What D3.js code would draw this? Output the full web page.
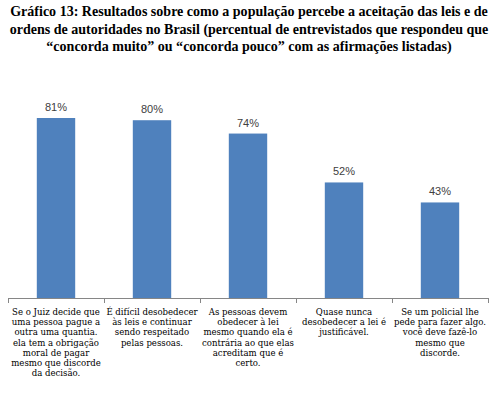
<!DOCTYPE html>
<html>
<head>
<meta charset="utf-8">
<script src="https://cdn.jsdelivr.net/npm/d3@7"></script>
<style>
  body { margin: 0; background: #fff; }
  svg { display: block; }
</style>
</head>
<body>
<div id="chart"></div>
<script>
// chart data
var titleLines = [
    "Gráfico 13: Resultados sobre como a população percebe a aceitação das leis e de",
    "ordens de autoridades no Brasil (percentual de entrevistados que respondeu que",
    "“concorda muito” ou “concorda pouco” com as afirmações listadas)"
];
var categories = [
    ["Se o Juiz decide que", "uma pessoa pague a", "outra uma quantia.", "ela tem a obrigação", "moral de pagar", "mesmo que discorde", "da decisão."],
    ["É difícil desobedecer", "às leis e continuar", "sendo respeitado", "pelas pessoas."],
    ["As pessoas devem", "obedecer à lei", "mesmo quando ela é", "contrária ao que elas", "acreditam que é", "certo."],
    ["Quase nunca", "desobedecer a lei é", "justificável."],
    ["Se um policial lhe", "pede para fazer algo.", "você deve fazê-lo", "mesmo que", "discorde."]
];
var values = [81, 80, 74, 52, 43];

var w = 500, h = 399;
var margin = { left: 8, right: 12, top: 98, bottom: 101 };
var serif = "'Liberation Serif', 'Times New Roman', serif";

var svg = d3.select("#chart").append("svg").attr("width", w).attr("height", h);

// title, sized so the first line spans about 478px like the reference
var title = svg.append("g").selectAll("text")
    .data(titleLines)
    .enter().append("text")
    .attr("x", w / 2 - 1)
    .attr("y", function (d, i) { return 16 + i * 17.5 })
    .attr("text-anchor", "middle")
    .attr("font-family", serif)
    .attr("font-weight", "bold")
    .attr("font-size", 13)
    .attr("fill", "#000")
    .text(function (d) { return d });
var tLen = title.nodes()[0].getComputedTextLength();
title.attr("font-size", Math.min(15, 13 * 478 / tLen));

var x = d3.scaleBand()
    .domain(d3.range(values.length))
    .range([margin.left, w - margin.right])
    .paddingInner(0.6)
    .paddingOuter(0.3);

var y = d3.scaleLinear()
    .domain([0, 90])
    .range([h - margin.bottom, margin.top]);

// bars
svg.append("g").selectAll("rect")
    .data(values)
    .enter().append("rect")
    .attr("x", function (d, i) { return x(i) })
    .attr("y", function (d) { return y(d) })
    .attr("width", x.bandwidth())
    .attr("height", function (d) { return y(0) - y(d) })
    .attr("fill", "#4F81BD");

// value labels
svg.append("g").selectAll("text")
    .data(values)
    .enter().append("text")
    .attr("x", function (d, i) { return x(i) + x.bandwidth() / 2 })
    .attr("y", function (d) { return y(d) - 7 })
    .attr("text-anchor", "middle")
    .attr("font-family", "'Liberation Sans', Arial, sans-serif")
    .attr("font-size", 11)
    .attr("fill", "#404040")
    .text(function (d) { return d + "%" });

// x axis with ticks between categories
var step = x.step();
var x0 = margin.left;
var axisG = svg.append("g");
axisG.append("line")
    .attr("x1", x0).attr("x2", w - margin.right)
    .attr("y1", y(0) + 0.5).attr("y2", y(0) + 0.5)
    .attr("stroke", "#868686");
axisG.selectAll("line.tick")
    .data(d3.range(values.length + 1))
    .enter().append("line")
    .attr("class", "tick")
    .attr("x1", function (d) { return Math.round(x0 + d * step) + 0.5 })
    .attr("x2", function (d) { return Math.round(x0 + d * step) + 0.5 })
    .attr("y1", y(0))
    .attr("y2", y(0) + 5)
    .attr("stroke", "#868686");

// category labels
var labelG = svg.append("g").selectAll("text")
    .data(categories)
    .enter().append("text")
    .attr("text-anchor", "middle")
    .attr("font-family", "'DejaVu Serif', serif")
    .attr("font-size", 9)
    .attr("fill", "#000");

labelG.each(function (lines, i) {
    var t = d3.select(this);
    lines.forEach(function (line, j) {
        t.append("tspan")
            .attr("x", x(i) + x.bandwidth() / 2)
            .attr("y", y(0) + 17 + j * 10.2)
            .text(line);
    });
});
// first label line is ~88px wide in the reference
var firstLen = labelG.select("tspan").node().getComputedTextLength();
labelG.attr("font-size", Math.min(9, 9 * 88 / firstLen));
</script>
</body>
</html>
